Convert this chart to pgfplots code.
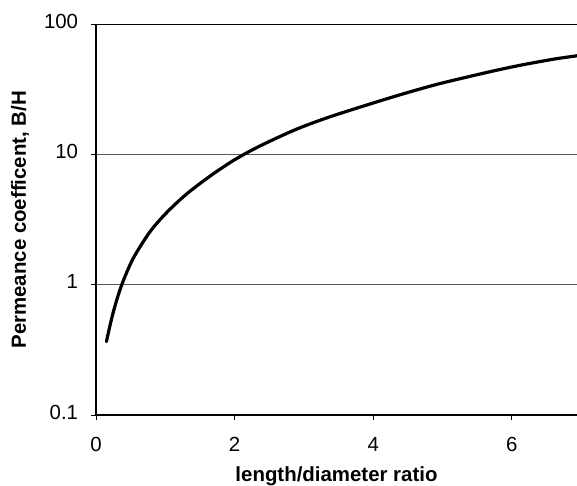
\documentclass[border=0pt]{standalone}
\usepackage{pgfplots}
\pgfplotsset{compat=1.18}
\usepackage{fontspec}
\setmainfont{Liberation Sans}
\begin{document}
\begin{tikzpicture}
\begin{axis}[
  at={(0,0)}, anchor=south west,
  scale only axis,
  width=481bp, height=390.5bp,
  xmin=0, xmax=6.94,
  ymode=log, ymin=0.1, ymax=100,
  axis y line*=left, axis x line*=box,
  axis line style={line width=1.3bp, black},
  xtick={0,2,4,6}, xtick pos=bottom,
  ytick={0.1,1,10,100}, yticklabels={0.1,1,10,100},
  yminorticks=false, xminorticks=false,
  tick align=outside, major tick length=5bp,
  tick style={line width=0.8bp, black},
  ymajorgrids,
  major grid style={line width=0.9bp, black!65},
  /pgf/number format/assume math mode=true,
  tick label style={font=\fontsize{20.5}{23}\selectfont, inner sep=0pt},
  yticklabel style={anchor=east, xshift=-12.7bp, yshift=3bp},
  xticklabel style={anchor=base, yshift=-31.7bp},
  xlabel={\bfseries length/diameter ratio},
  ylabel={\bfseries Permeance coefficent, B/H},
  label style={font=\fontsize{20.5}{23}\selectfont},
  xlabel style={at={(axis description cs:0.5,0)}, anchor=base, yshift=-66.7bp, inner sep=0pt},
  ylabel style={at={(axis description cs:-0.158,0.5)}, anchor=center},
]
\addplot[black, line width=3.2bp, smooth, line cap=round] coordinates {
(0.150,0.366) (0.245,0.605) (0.366,0.982) (0.534,1.585) (0.775,2.54)
(1.015,3.57) (1.304,4.97) (1.640,6.81) (1.928,8.65) (2.145,10.12)
(2.409,11.97) (2.890,15.67) (3.371,19.5) (3.995,24.9) (4.477,29.8)
(4.957,35.1) (5.654,43.0) (6.136,48.8) (6.616,54.3) (6.94,57.5)
};
\end{axis}
\pgfresetboundingbox
\path[use as bounding box] (-96bp,-71bp) rectangle (481bp,415bp);
\end{tikzpicture}
\end{document}
